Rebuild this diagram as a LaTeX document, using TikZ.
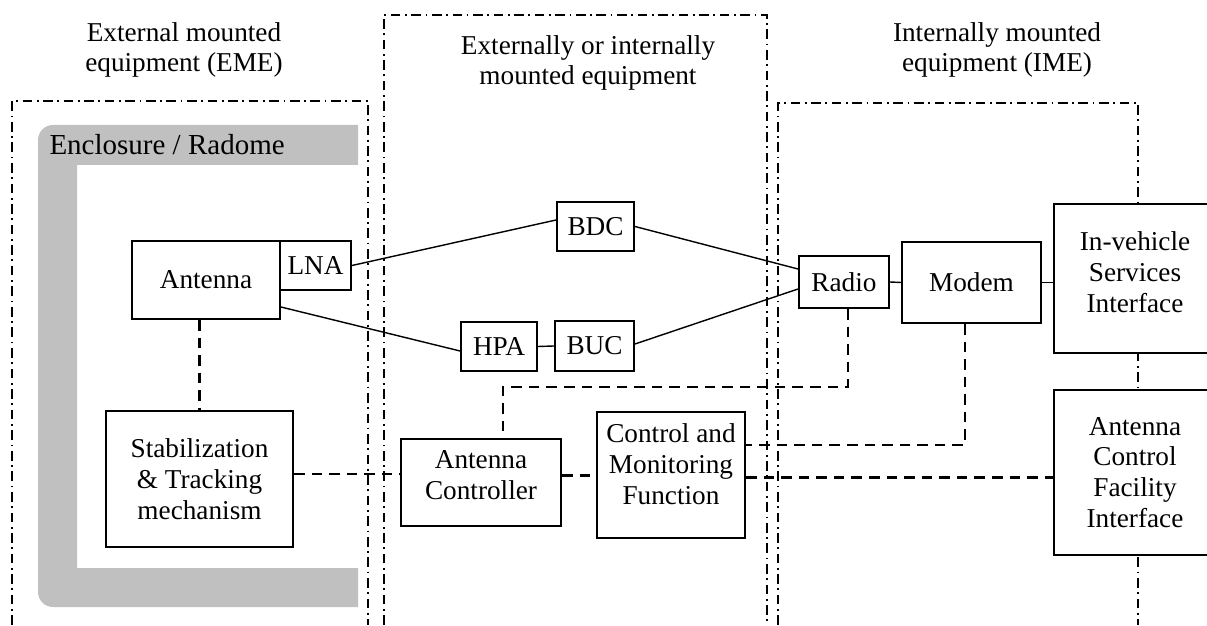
\documentclass[tikz,border=0pt]{standalone}
\usepackage{fontspec}
\setmainfont{Liberation Serif}
\tikzset{unit/.style={draw,fill=white,line width=1.1pt,align=center,inner sep=0.05cm,font=\fontsize{15.5}{17.5}\selectfont},
heading/.style={align=center,inner sep=0cm,font=\fontsize{15.5}{17.5}\selectfont},
region/.style={line width=1.1pt,dash pattern=on 5.5pt off 2.6pt on 1pt off 2.6pt},
radome/.style={fill={rgb,255:red,192;green,192;blue,192}},
link/.style={line width=0.8pt},
ctrl/.style={line width=1.2pt,dash pattern=on 6pt off 4pt}}

\begin{document}
\begin{tikzpicture}[semithick]
\useasboundingbox (0,0) rectangle (24.14,12.5);
\clip (0,0) rectangle (24.14,12.5);

%% Coordinates of nodes.
\coordinate (p-eme) at (3.68,11.5);
\coordinate (p-mid) at (11.76,11.24);
\coordinate (p-ime) at (19.94,11.5);
\coordinate (p-encl) at (0.98,9.6);
\coordinate (p-antenna) at (4.12,6.9);
\coordinate (p-lna) at (6.31,7.19);
\coordinate (p-bdc) at (11.91,7.97);
\coordinate (p-hpa) at (9.98,5.57);
\coordinate (p-buc) at (11.89,5.58);
\coordinate (p-radio) at (16.88,6.86);
\coordinate (p-modem) at (19.43,6.85);
\coordinate (p-ivsi) at (22.7,6.93);
\coordinate (p-acfi) at (22.7,3.05);
\coordinate (p-stab) at (3.99,2.92);
\coordinate (p-actrl) at (9.62,2.85);
\coordinate (p-cmf) at (13.42,3.0);

%% mounting regions
\draw [region] (0.24,0) -- (0.24,10.48) -- (7.36,10.48) -- (7.36,0);
\draw [region] (7.68,0) -- (7.68,12.2) -- (15.34,12.2) -- (15.34,0);
\draw [region] (15.56,0) -- (15.56,10.44) -- (22.76,10.44) -- (22.76,0);

%% enclosure / radome
\fill [radome] (7.16,10.0) -- (1.06,10.0) arc [start angle=90,end angle=180,radius=0.3]
  -- (0.76,0.66) arc [start angle=180,end angle=270,radius=0.3]
  -- (7.16,0.36) -- (7.16,1.14) -- (1.54,1.14) -- (1.54,9.2) -- (7.16,9.2) -- cycle;

%% region labels
\node [heading] (eme) at (p-eme) {External mounted\\equipment (EME)};
\node [heading] (mid) at (p-mid) {Externally or internally\\mounted equipment};
\node [heading] (ime) at (p-ime) {Internally mounted\\equipment (IME)};
\node [heading,anchor=west,font=\fontsize{16.5}{18}\selectfont] (encl) at (p-encl) {Enclosure / Radome};

%% units
\node [unit,minimum width=2.96cm,minimum height=1.56cm] (antenna) at (p-antenna) {Antenna};
\node [unit,minimum width=1.42cm,minimum height=0.98cm] (lna) at (p-lna) {LNA};
\node [unit,minimum width=1.54cm,minimum height=0.98cm] (bdc) at (p-bdc) {BDC};
\node [unit,minimum width=1.52cm,minimum height=0.98cm] (hpa) at (p-hpa) {HPA};
\node [unit,minimum width=1.58cm,minimum height=1.0cm] (buc) at (p-buc) {BUC};
\node [unit,minimum width=1.8cm,minimum height=1.04cm] (radio) at (p-radio) {Radio};
\node [unit,minimum width=2.78cm,minimum height=1.62cm] (modem) at (p-modem) {Modem};
\node [unit,minimum width=3.24cm,minimum height=2.98cm] (ivsi) at (p-ivsi) {};
\node [unit,minimum width=3.24cm,minimum height=3.3cm] (acfi) at (p-acfi) {Antenna\\Control\\Facility\\Interface};
\node [unit,minimum width=3.74cm,minimum height=2.72cm] (stab) at (p-stab) {Stabilization\\\& Tracking\\mechanism};
\node [unit,minimum width=3.2cm,minimum height=1.74cm] (actrl) at (p-actrl) {};
\node [unit,minimum width=2.96cm,minimum height=2.52cm] (cmf) at (p-cmf) {};

% texts sitting above the centre of their box
\node [heading] (ivsi-text) at ([yshift=0.13cm]ivsi.center) {In-vehicle\\Services\\Interface};
\node [heading] (actrl-text) at ([yshift=0.15cm]actrl.center) {Antenna\\Controller};
\node [heading] (cmf-text) at ([yshift=0.22cm]cmf.center) {Control and\\Monitoring\\Function};

%% signal links
\draw [link] (lna.east) -- ([yshift=0.13cm]bdc.west);
\draw [link] ([yshift=-0.54cm]antenna.east) -- ([yshift=-0.09cm]hpa.west);
\draw [link] (hpa.east) -- (buc.west);
\draw [link] (bdc.east) -- ([yshift=0.26cm]radio.west);
\draw [link] ([yshift=0.04cm]buc.east) -- ([yshift=-0.14cm]radio.west);
\draw [link] (radio.east) -- (modem.west);
\draw [link] (modem.east) -- (modem.east -| ivsi.west);

%% control links
\draw [ctrl] (stab.north |- antenna.south) -- (stab.north);
\draw [ctrl] ([yshift=0.1cm]stab.east) -- ([yshift=0.1cm]stab.east -| actrl.west);
\draw [ctrl] ([yshift=0.14cm]actrl.east) -- ([yshift=0.14cm]actrl.east -| cmf.west);
\draw [ctrl] ([xshift=0.08cm]radio.south) -- ++(0,-1.56) -| ([xshift=0.44cm]actrl.north);
\draw [ctrl] ([xshift=-0.13cm]modem.south) |- ([yshift=0.6cm]cmf.east);
\draw [ctrl] ([yshift=-0.05cm]cmf.east) -- ([yshift=-0.05cm]cmf.east -| acfi.west);

\end{tikzpicture}
\end{document}
